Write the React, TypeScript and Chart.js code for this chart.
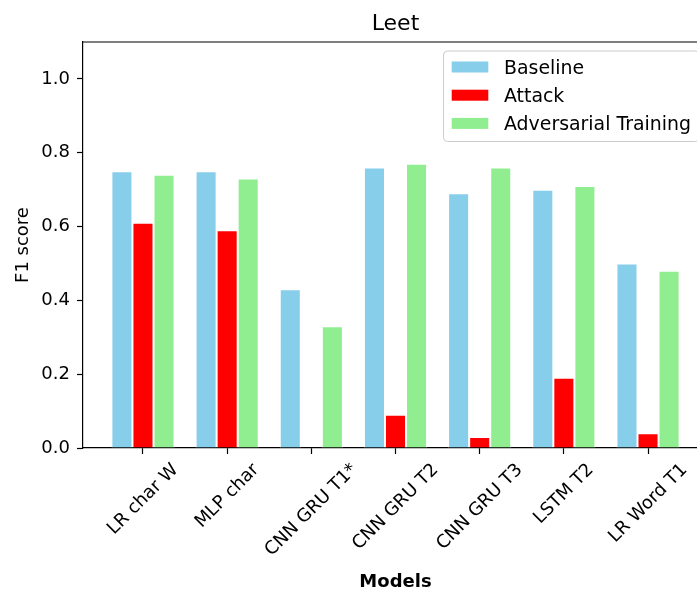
import { useEffect, useRef } from "react";
import { Chart, registerables } from "chart.js";

Chart.register(...registerables);

// F1 scores per model under the "Leet" perturbation
const models = ["LR char W", "MLP char", "CNN GRU T1*", "CNN GRU T2", "CNN GRU T3", "LSTM T2", "LR Word T1"];
const baseline = [0.75, 0.75, 0.43, 0.76, 0.69, 0.7, 0.5];
const attack = [0.61, 0.59, 0.0, 0.09, 0.03, 0.19, 0.04];
const adversarialTraining = [0.74, 0.73, 0.33, 0.77, 0.76, 0.71, 0.48];

const seriesNames = ["Baseline", "Attack", "Adversarial Training"];
const seriesColors = ["#87ceeb", "#ff0000", "#90ee90"];
const yTicks = [0, 0.2, 0.4, 0.6, 0.8, 1.0];

const chartTitle = "Leet";
const xTitle = "Models";
const yTitle = "F1 score";

const FONT = "'DejaVu Sans', sans-serif";
const FS = 18;
const LEGEND_FS = 18.9;

const overlayPlugin = {
  id: "overlay",
  afterDraw(chart: any) {
    const { ctx, chartArea, scales } = chart;
    const { left, right, top, bottom } = chartArea;
    ctx.save();

    // top and right spines
    ctx.strokeStyle = "#000";
    ctx.lineWidth = 1.2;
    ctx.beginPath();
    ctx.moveTo(left, top);
    ctx.lineTo(right, top);
    ctx.lineTo(right, bottom);
    ctx.stroke();

    ctx.fillStyle = "#000";

    // title
    ctx.font = `22px ${FONT}`;
    ctx.textAlign = "center";
    ctx.textBaseline = "alphabetic";
    ctx.fillText(chartTitle, (left + right) / 2, 30);

    // x axis title
    ctx.font = `bold ${FS}px ${FONT}`;
    ctx.fillText(xTitle, (left + right) / 2, 586.5);

    // y axis title
    ctx.font = `${FS}px ${FONT}`;
    ctx.save();
    ctx.translate(28, (top + bottom) / 2);
    ctx.rotate(-Math.PI / 2);
    ctx.fillText(yTitle, 0, 0);
    ctx.restore();

    // rotated category labels, centred under each tick
    const xs = scales.x;
    const labelTop = bottom + 12.5;
    models.forEach((name: string, i: number) => {
      const px = xs.getPixelForValue(i);
      const w = ctx.measureText(name).width;
      const H = (w + FS) * Math.SQRT1_2;
      ctx.save();
      ctx.translate(px, labelTop + H / 2);
      ctx.rotate(-Math.PI / 4);
      ctx.textAlign = "center";
      ctx.fillText(name, 0, 0.27 * FS);
      ctx.restore();
    });

    // legend
    const lx = 443.5;
    const ly = 51;
    const lw = 256;
    const lh = 90.5;
    ctx.beginPath();
    if (ctx.roundRect) ctx.roundRect(lx, ly, lw, lh, 4);
    else ctx.rect(lx, ly, lw, lh);
    ctx.fillStyle = "rgba(255,255,255,0.8)";
    ctx.fill();
    ctx.strokeStyle = "#cccccc";
    ctx.lineWidth = 1;
    ctx.stroke();

    ctx.font = `${LEGEND_FS}px ${FONT}`;
    ctx.textAlign = "left";
    chart.data.datasets.forEach((ds: any, k: number) => {
      const yc = 67 + 28.2 * k;
      ctx.fillStyle = ds.backgroundColor;
      ctx.fillRect(451.7, yc - 5.5, 36.6, 11);
      ctx.fillStyle = "#000";
      ctx.fillText(ds.label, 504, yc + 6.6);
    });

    ctx.restore();
  },
};

export default function App() {
  const ref = useRef<HTMLCanvasElement>(null);

  useEffect(() => {
    const canvas = ref.current;
    if (!canvas) return;
    const series = [baseline, attack, adversarialTraining];
    const axisLine = { display: true, color: "#000", width: 1.2 };
    const tickGrid = {
      drawOnChartArea: false,
      drawTicks: true,
      tickLength: 6,
      tickColor: "#000",
      tickWidth: 1.2,
      color: "#000",
      offset: false,
    };

    const chart = new Chart(canvas, {
      type: "bar",
      data: {
        datasets: seriesNames.map((name, s) => ({
          label: name,
          data: series[s].map((v, i) => ({ x: i, y: v })),
          backgroundColor: seriesColors[s],
          borderColor: "#ffffff",
          borderWidth: 1,
          categoryPercentage: 0.75,
          barPercentage: 1,
        })),
      },
      options: {
        responsive: false,
        animation: false,
        layout: { padding: { top: 42, right: 12, left: 0, bottom: 0 } },
        plugins: {
          legend: { display: false },
          title: { display: false },
          tooltip: { enabled: false },
        },
        scales: {
          x: {
            type: "linear",
            offset: false,
            min: -0.7125,
            max: 6.7125,
            afterBuildTicks: (s: any) => {
              s.ticks = models.map((_, i) => ({ value: i }));
            },
            afterFit: (s: any) => {
              s.height = 142;
            },
            ticks: { display: false },
            grid: tickGrid,
            border: axisLine,
          },
          y: {
            type: "linear",
            min: 0,
            max: 1.1,
            afterBuildTicks: (s: any) => {
              s.ticks = yTicks.map((v) => ({ value: v }));
            },
            afterFit: (s: any) => {
              s.width = 83;
            },
            ticks: {
              callback: (v: any) => Number(v).toFixed(1),
              font: { family: FONT, size: FS },
              color: "#000",
              padding: 7,
            },
            grid: tickGrid,
            border: axisLine,
          },
        },
      } as any,
      plugins: [overlayPlugin],
    });
    return () => chart.destroy();
  }, []);

  return (
    <div style={{ position: "fixed", left: 0, top: 0, width: 697, height: 590, overflow: "hidden", background: "#fff" }}>
      <canvas ref={ref} width={720} height={590} style={{ display: "block" }} />
    </div>
  );
}
